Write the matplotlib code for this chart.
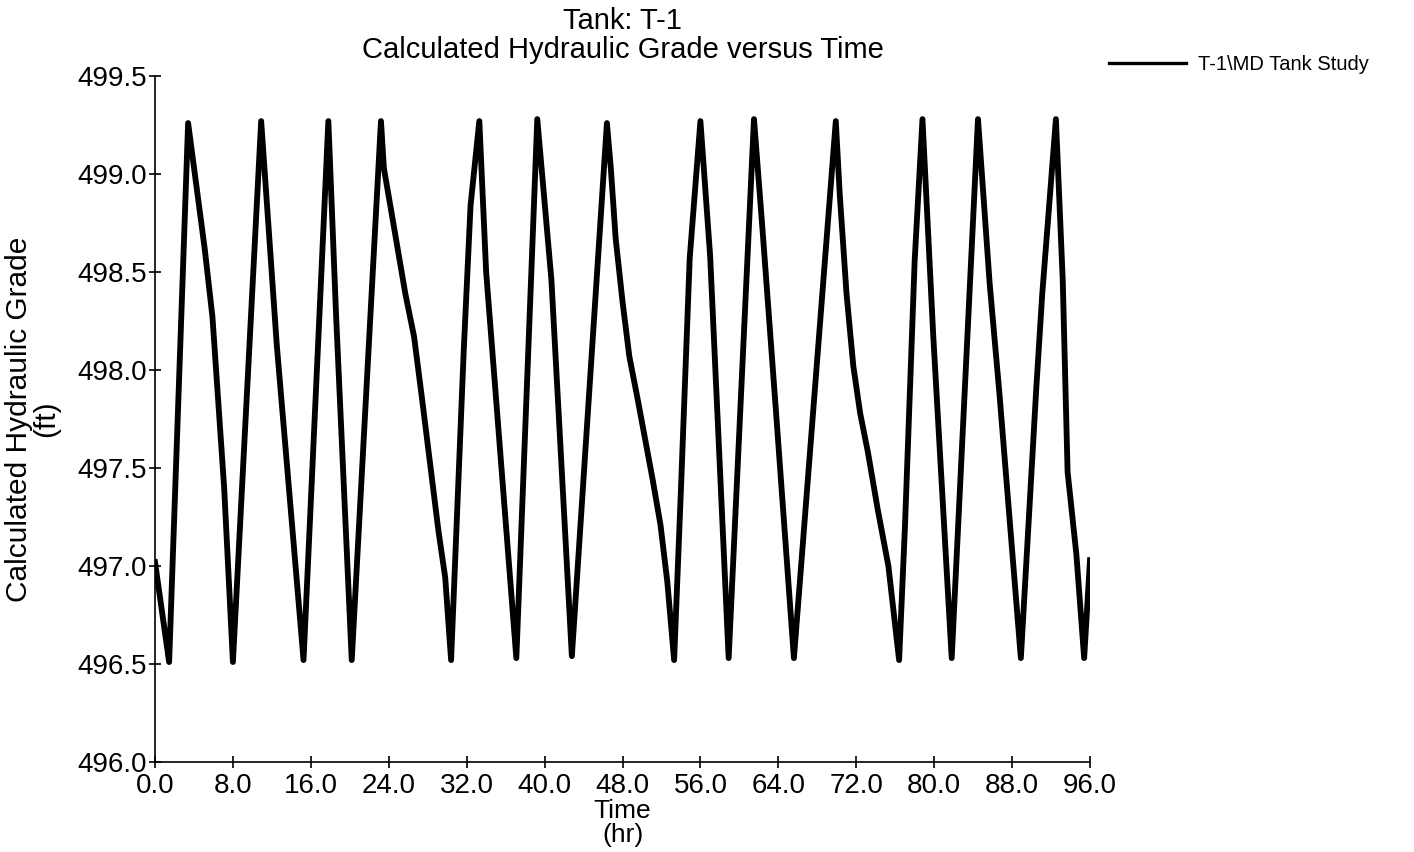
import matplotlib
matplotlib.use("Agg")
import matplotlib.pyplot as plt

# Tank T-1 hydraulic grade
time_hr = [0, 1.45, 3.4, 5.1, 5.9, 7.1, 8.0, 10.9, 12.5, 15.25, 17.8, 18.6, 20.2,
           23.2, 23.5, 24.5, 25.7, 26.6, 27.4, 28.3, 29.1, 29.8, 30.4, 31.7, 32.4,
           33.3, 34.0, 37.1, 39.25, 40.7, 42.8,
           46.4, 46.8, 47.3, 48.0, 48.7, 49.6, 50.2, 51.1, 51.9, 52.6, 53.3, 54.0,
           54.9, 56.0, 57.0, 58.9, 61.5, 62.4, 63.8, 65.6,
           69.9, 70.3, 71.0, 71.7, 72.4, 73.2, 74.2, 75.3, 76.4, 77.0, 78.0, 78.8,
           79.9, 81.8, 84.5, 85.7, 86.7, 88.9, 90.5, 91.1, 92.5, 93.2, 93.7, 94.6,
           95.4, 96.0]
grade_ft = [497.02, 496.51, 499.26, 498.62, 498.27, 497.40, 496.51, 499.27, 498.13,
            496.52, 499.27, 498.27, 496.52,
            499.27, 499.03, 498.74, 498.39, 498.17, 497.86, 497.50, 497.18, 496.94,
            496.52, 498.10, 498.84, 499.27, 498.50, 496.53, 499.28, 498.46, 496.54,
            499.26, 499.03, 498.67, 498.35, 498.07, 497.84, 497.68, 497.44, 497.21,
            496.92, 496.52, 497.39, 498.57, 499.27, 498.58, 496.53, 499.28, 498.70,
            497.76, 496.53,
            499.27, 498.90, 498.39, 498.02, 497.78, 497.58, 497.29, 497.00, 496.52,
            497.20, 498.56, 499.28, 498.18, 496.53, 499.28, 498.44, 497.88, 496.53,
            497.92, 498.39, 499.28, 498.46, 497.48, 497.06, 496.53, 497.03]

x_ticks = [0, 8, 16, 24, 32, 40, 48, 56, 64, 72, 80, 88, 96]
y_ticks = [496.0, 496.5, 497.0, 497.5, 498.0, 498.5, 499.0, 499.5]
series_label = "T-1\\MD Tank Study"

plt.rcParams['font.family'] = ['Liberation Sans', 'DejaVu Sans']

fig = plt.figure(figsize=(14.14, 8.52), dpi=100)
ax = fig.add_axes([155 / 1414, 1 - 762 / 852, (1090 - 155) / 1414, (762 - 76) / 852])

ax.plot(time_hr, grade_ft, color='black', linewidth=4.2, label=series_label)

ax.set_xlim(0, 96)
ax.set_ylim(496.0, 499.5)
ax.set_xticks(x_ticks)
ax.set_xticklabels([f"{v:.1f}" for v in x_ticks])
ax.set_yticks(y_ticks)
ax.set_yticklabels([f"{v:.1f}" for v in y_ticks])

for side in ['top', 'right']:
    ax.spines[side].set_visible(False)
for side in ['left', 'bottom']:
    ax.spines[side].set_linewidth(1.2)

ax.tick_params(axis='both', direction='inout', length=8, width=1.2, labelsize=20)
ax.tick_params(axis='y', pad=2)
ax.tick_params(axis='x', pad=4)

ax.set_title("Tank: T-1\nCalculated Hydraulic Grade versus Time", fontsize=21,
             pad=13, linespacing=1.05)
ax.set_xlabel("Time\n(hr)", fontsize=19, labelpad=0, linespacing=1.0)
ax.set_ylabel("Calculated Hydraulic Grade\n(ft)", fontsize=21.5, labelpad=12,
              linespacing=0.95)

leg = fig.legend(loc='upper left', bbox_to_anchor=(1091 / 1414, 1 - 37 / 852),
                 frameon=False, handlelength=3.8, handletextpad=0.6,
                 prop={'family': ['Liberation Sans Narrow', 'Liberation Sans'],
                       'size': 14.5})
for line in leg.get_lines():
    line.set_linewidth(2.4)

fig.savefig("out.png", dpi=100, facecolor='white')
